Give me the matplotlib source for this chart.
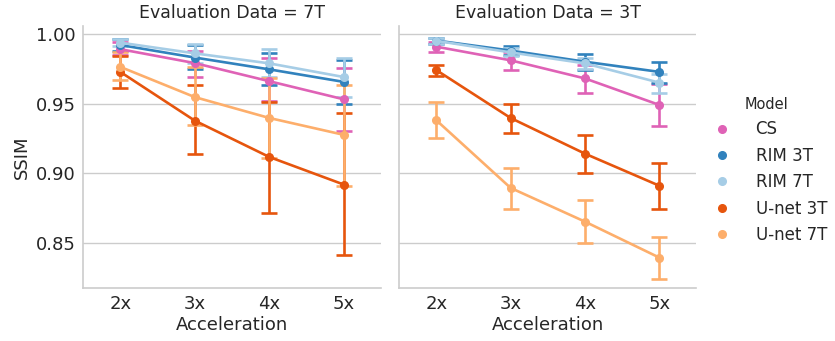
import numpy as np
import matplotlib
matplotlib.use("Agg")
import matplotlib.pyplot as plt
import seaborn as sns

# Datos
accel = ["2x", "3x", "4x", "5x"]
models = ["CS", "RIM 3T", "RIM 7T", "U-net 3T", "U-net 7T"]
colors = ["#df62b6", "#3182bd", "#a6cde6", "#e6550d", "#fdae6b"]
panels = ["7T", "3T"]

# Evaluation Data = 7T
mean_7t = {
    "CS":       [0.989, 0.979, 0.966, 0.953],
    "RIM 3T":   [0.992, 0.983, 0.9745, 0.9655],
    "RIM 7T":   [0.9937, 0.986, 0.9788, 0.969],
    "U-net 3T": [0.9727, 0.9377, 0.9116, 0.8918],
    "U-net 7T": [0.9763, 0.9546, 0.9396, 0.9275],
}
lo_7t = {
    "CS":       [0.985, 0.969, 0.952, 0.930],
    "RIM 3T":   [0.988, 0.975, 0.963, 0.950],
    "RIM 7T":   [0.991, 0.979, 0.969, 0.955],
    "U-net 3T": [0.9614, 0.9135, 0.8715, 0.841],
    "U-net 7T": [0.9667, 0.9348, 0.911, 0.891],
}
hi_7t = {
    "CS":       [0.9945, 0.988, 0.983, 0.9756],
    "RIM 3T":   [0.996, 0.992, 0.986, 0.981],
    "RIM 7T":   [0.9965, 0.993, 0.989, 0.983],
    "U-net 3T": [0.984, 0.963, 0.951, 0.943],
    "U-net 7T": [0.987, 0.976, 0.9686, 0.963],
}

# Evaluation Data = 3T
mean_3t = {
    "CS":       [0.9908, 0.981, 0.968, 0.949],
    "RIM 3T":   [0.9952, 0.988, 0.980, 0.9727],
    "RIM 7T":   [0.995, 0.9867, 0.9788, 0.965],
    "U-net 3T": [0.974, 0.9396, 0.914, 0.891],
    "U-net 7T": [0.938, 0.8894, 0.8652, 0.8394],
}
lo_3t = {
    "CS":       [0.987, 0.974, 0.9577, 0.934],
    "RIM 3T":   [0.993, 0.985, 0.9744, 0.965],
    "RIM 7T":   [0.993, 0.984, 0.975, 0.9575],
    "U-net 3T": [0.9696, 0.9287, 0.9003, 0.8744],
    "U-net 7T": [0.9249, 0.8746, 0.850, 0.8239],
}
hi_3t = {
    "CS":       [0.994, 0.987, 0.978, 0.9638],
    "RIM 3T":   [0.997, 0.991, 0.9855, 0.9795],
    "RIM 7T":   [0.997, 0.990, 0.983, 0.9715],
    "U-net 3T": [0.9775, 0.9498, 0.9273, 0.9075],
    "U-net 7T": [0.9514, 0.9039, 0.8804, 0.8543],
}

data = {"7T": (mean_7t, lo_7t, hi_7t), "3T": (mean_3t, lo_3t, hi_3t)}


def run():
    sns.set_theme(style="whitegrid")
    plt.rcParams["font.family"] = ["DejaVu Sans"]

    fig = plt.figure(figsize=(8.35, 3.41), dpi=100)
    ax1 = fig.add_axes([0.0994, 0.154, 0.357, 0.770])
    ax2 = fig.add_axes([0.478, 0.154, 0.356, 0.770], sharey=ax1)

    x = np.arange(len(accel))
    handles = []
    for ax, panel in zip([ax1, ax2], panels):
        mean, lo, hi = data[panel]
        for m, c in zip(models, colors):
            y = np.array(mean[m])
            err = np.vstack([y - np.array(lo[m]), np.array(hi[m]) - y])
            ax.errorbar(x, y, yerr=err, color=c, lw=1.9, elinewidth=1.9,
                        capsize=5.8, capthick=1.9, marker="o", ms=5.5,
                        mec=c, zorder=3)
            if panel == "7T":
                handles.append(plt.Line2D([], [], ls="", marker="o", ms=5.5,
                                          color=c, label=m))
        ax.set_xlim(-0.5, 3.5)
        ax.set_xticks(x)
        ax.set_xticklabels(accel)
        ax.set_title("Evaluation Data = " + panel, fontsize=12.5, color="#262626", pad=6)
        ax.set_xlabel("Acceleration", fontsize=13, color="#262626", labelpad=2)
        ax.grid(axis="x", visible=False)
        ax.grid(axis="y", color="#cccccc", lw=1)
        for s in ["top", "right"]:
            ax.spines[s].set_visible(False)
        for s in ["left", "bottom"]:
            ax.spines[s].set_color("#cccccc")
            ax.spines[s].set_linewidth(1.2)
        ax.tick_params(axis="both", labelsize=13, colors="#262626", length=0, pad=5)

    ax1.set_ylim(0.8172, 1.0057)
    ax1.set_yticks([0.85, 0.90, 0.95, 1.00])
    ax1.set_yticklabels(["0.85", "0.90", "0.95", "1.00"])
    ax1.set_ylabel("SSIM", fontsize=13, color="#262626")
    plt.setp(ax2.get_yticklabels(), visible=False)

    leg = fig.legend(handles=handles, title="Model", loc="center left",
                     bbox_to_anchor=(0.827, 0.5), frameon=False, fontsize=12,
                     title_fontsize=10.5, handletextpad=1.0, labelspacing=0.5)
    for t in leg.get_texts():
        t.set_color("#262626")

    fig.savefig("out.png", dpi=100)


if __name__ == "__main__":
    run()
